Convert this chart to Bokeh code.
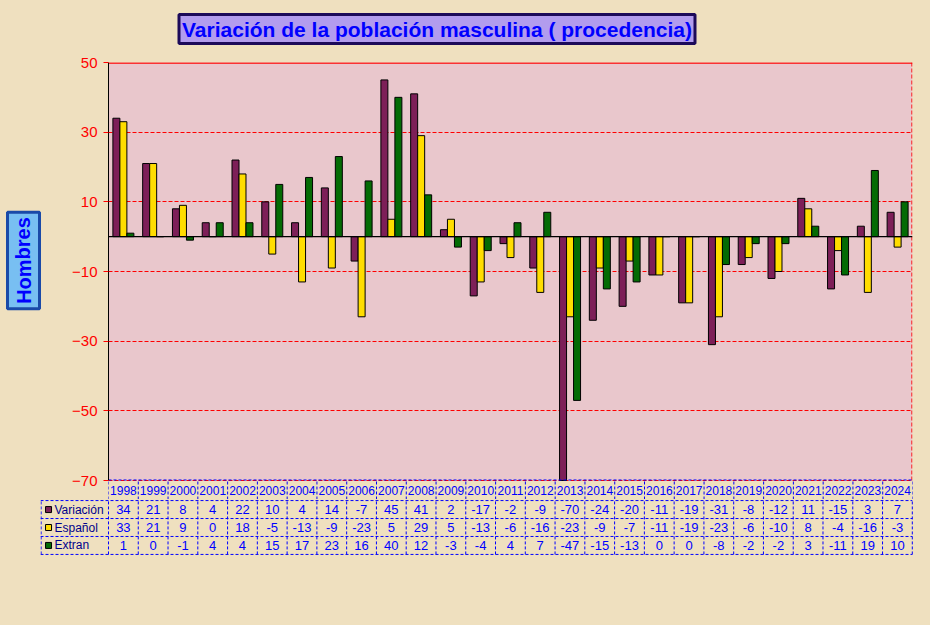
from bokeh.plotting import figure
from bokeh.models import Range1d, FixedTicker, Span, Label, ColumnDataSource
from bokeh.layouts import column, row
from bokeh.embed import file_html
from bokeh.resources import INLINE
from bokeh.core.properties import value

# ---------------- data ----------------
years = ["1998", "1999", "2000", "2001", "2002", "2003", "2004", "2005", "2006",
         "2007", "2008", "2009", "2010", "2011", "2012", "2013", "2014", "2015",
         "2016", "2017", "2018", "2019", "2020", "2021", "2022", "2023", "2024"]
variacion = [34, 21, 8, 4, 22, 10, 4, 14, -7, 45, 41, 2, -17, -2, -9, -70, -24,
             -20, -11, -19, -31, -8, -12, 11, -15, 3, 7]
espanol = [33, 21, 9, 0, 18, -5, -13, -9, -23, 5, 29, 5, -13, -6, -16, -23, -9,
           -7, -11, -19, -23, -6, -10, 8, -4, -16, -3]
extran = [1, 0, -1, 4, 4, 15, 17, 23, 16, 40, 12, -3, -4, 4, 7, -47, -15, -13,
          0, 0, -8, -2, -2, 3, -11, 19, 10]
series_names = ["Variación", "Español", "Extran"]
y_ticks = [50, 30, 10, -10, -30, -50, -70]
y_min, y_max = -70, 50
title_text = "Variación de la población masculina ( procedencia)"
y_title = "Hombres"

# ---------------- styles ----------------
FONT = "Liberation Sans"
BEIGE = "#efe0bf"
PINK = "#e9c7cc"
COLORS = ["#7d1f58", "#ffdd00", "#046b04"]
BLUE = "#0000ff"
W = 930
TOP_H, LEFT_W, MAIN_H, TABLE_H = 52, 50, 447, 126
FRAME_TOP = 62


def blank_fig(w, h):
    f = figure(width=w, height=h, x_range=Range1d(0, w), y_range=Range1d(0, h),
               output_backend="svg", toolbar_location=None,
               x_axis_location=None, y_axis_location=None,
               min_border_left=0, min_border_right=0, min_border_top=0,
               min_border_bottom=0)
    f.frame_align = False
    f.background_fill_color = BEIGE
    f.border_fill_color = BEIGE
    f.outline_line_color = None
    f.grid.visible = False
    return f


n = len(years)
BW = 0.235
centers = [i + 0.5 for i in range(n)]
PX_PER_UNIT = 418 / (y_max - y_min)
YEAR_ROW = 19 / PX_PER_UNIT          # year row height in data units
y_bottom = y_min - YEAR_ROW
yr_center = y_min - YEAR_ROW / 2

# ---------------- title strip ----------------
top = blank_fig(W, TOP_H)
top.add_layout(Label(x=436.5, y=TOP_H - 28.5, text=title_text, text_align="center",
                     text_baseline="middle", text_font=FONT, text_font_size="21px",
                     text_font_style="bold", text_color=BLUE,
                     background_fill_color="#b29cee", border_line_color="#1c0a5a",
                     border_line_width=3, padding=3))

# ---------------- y title strip ----------------
side = blank_fig(LEFT_W, MAIN_H)
side.add_layout(Label(x=23, y=MAIN_H - (260 - TOP_H), text=y_title, angle=1.5708,
                      text_align="center", text_baseline="middle", text_font=FONT,
                      text_font_size="20px", text_font_style="bold", text_color=BLUE,
                      background_fill_color="#78bff2", border_line_color="#1a4aa8",
                      border_line_width=3, padding=5))

# ---------------- main chart (with year row) ----------------
p = figure(width=W - LEFT_W, height=MAIN_H, x_range=Range1d(0, n),
           y_range=Range1d(y_bottom, y_max),
           output_backend="svg", toolbar_location=None, x_axis_location=None,
           min_border_left=108 - LEFT_W, min_border_right=18,
           min_border_top=FRAME_TOP - TOP_H, min_border_bottom=0)
p.frame_align = False
p.background_fill_color = BEIGE
p.border_fill_color = BEIGE
p.outline_line_color = None

p.quad(left=[0], right=[n], bottom=[y_min], top=[y_max], fill_color=PINK,
       line_color=None, level="underlay")
p.xgrid.visible = False
p.ygrid.grid_line_color = "red"
p.ygrid.grid_line_dash = "4 2"
p.ygrid.grid_line_width = 1
p.ygrid.bounds = (y_min, y_max)

src = ColumnDataSource(dict(
    x1=[c - BW for c in centers], x2=centers, x3=[c + BW for c in centers],
    v=variacion, e=espanol, x=extran))
for xs, ys, col in (("x1", "v", COLORS[0]), ("x2", "e", COLORS[1]), ("x3", "x", COLORS[2])):
    p.vbar(x=xs, top=ys, bottom=0, width=BW, source=src, fill_color=col,
           line_color="black", line_width=1)

p.segment(x0=[0], y0=[y_max - 0.15], x1=[n], y1=[y_max - 0.15], line_color="red", line_width=1.5)
p.segment(x0=[n - 0.02], y0=[y_min], x1=[n - 0.02], y1=[y_max], line_color="red",
          line_dash="4 2", line_width=1)
p.add_layout(Span(location=0, dimension="width", line_color="black", line_width=1.2))

ax = p.yaxis[0]
ax.ticker = FixedTicker(ticks=y_ticks)
ax.bounds = (y_min, y_max)
ax.major_label_text_color = "red"
ax.major_label_text_font = FONT
ax.major_label_text_font_size = "15px"
ax.major_tick_line_color = "red"
ax.major_tick_out = 5
ax.major_tick_in = 0
ax.minor_tick_line_color = None
ax.axis_line_color = "black"
ax.major_label_standoff = 6

vx = list(range(n + 1))
p.segment(x0=vx, y0=[y_bottom] * len(vx), x1=vx, y1=[y_min] * len(vx),
          line_color=BLUE, line_dash="3 2", line_width=1)
p.segment(x0=[0], y0=[y_min + 0.15], x1=[n], y1=[y_min + 0.15], line_color=BLUE,
          line_dash="3 2", line_width=1)
p.text(x=centers, y=[yr_center] * n, text=years, text_align="center",
       text_baseline="middle", text_font=value(FONT), text_font_size="12px",
       text_color=BLUE)

# ---------------- data table rows ----------------
LEFT = -2.2836
t = figure(width=W, height=TABLE_H, x_range=Range1d(LEFT, n + 0.04),
           y_range=Range1d(-0.06, 3.06), output_backend="svg", toolbar_location=None,
           x_axis_location=None, y_axis_location=None,
           min_border_left=40, min_border_right=17, min_border_top=0,
           min_border_bottom=70)
t.frame_align = False
t.background_fill_color = BEIGE
t.border_fill_color = BEIGE
t.outline_line_color = None
t.grid.visible = False

t.segment(x0=vx, y0=[0] * len(vx), x1=vx, y1=[3] * len(vx), line_color=BLUE,
          line_dash="3 2", line_width=1)
t.segment(x0=[LEFT + 0.02], y0=[0], x1=[LEFT + 0.02], y1=[3], line_color=BLUE, line_dash="3 2")
t.segment(x0=[LEFT] * 4, y0=[3, 2, 1, 0], x1=[n] * 4, y1=[3, 2, 1, 0],
          line_color=BLUE, line_dash="3 2")

for rw, vals in zip((2.5, 1.5, 0.5), (variacion, espanol, extran)):
    t.text(x=centers, y=[rw] * n, text=[str(v) for v in vals], text_align="center",
           text_baseline="middle", text_font=value(FONT), text_font_size="13px",
           text_color=BLUE)

t.rect(x=[LEFT + 0.27] * 3, y=[2.5, 1.5, 0.5], width=6, height=6,
       width_units="screen", height_units="screen", fill_color=COLORS,
       line_color="black", line_width=1)
t.text(x=[LEFT + 0.47] * 3, y=[2.5, 1.5, 0.5], text=series_names,
       text_align="left", text_baseline="middle", text_font=value(FONT),
       text_font_size="12px", text_color="#00008b")

layout = column(top, row(side, p, spacing=0), t, spacing=0)
html = file_html(layout, INLINE)
html = html.replace("<head>", "<head><style>body{background:%s;}</style>" % BEIGE, 1)
open("out.html", "w").write(html)
